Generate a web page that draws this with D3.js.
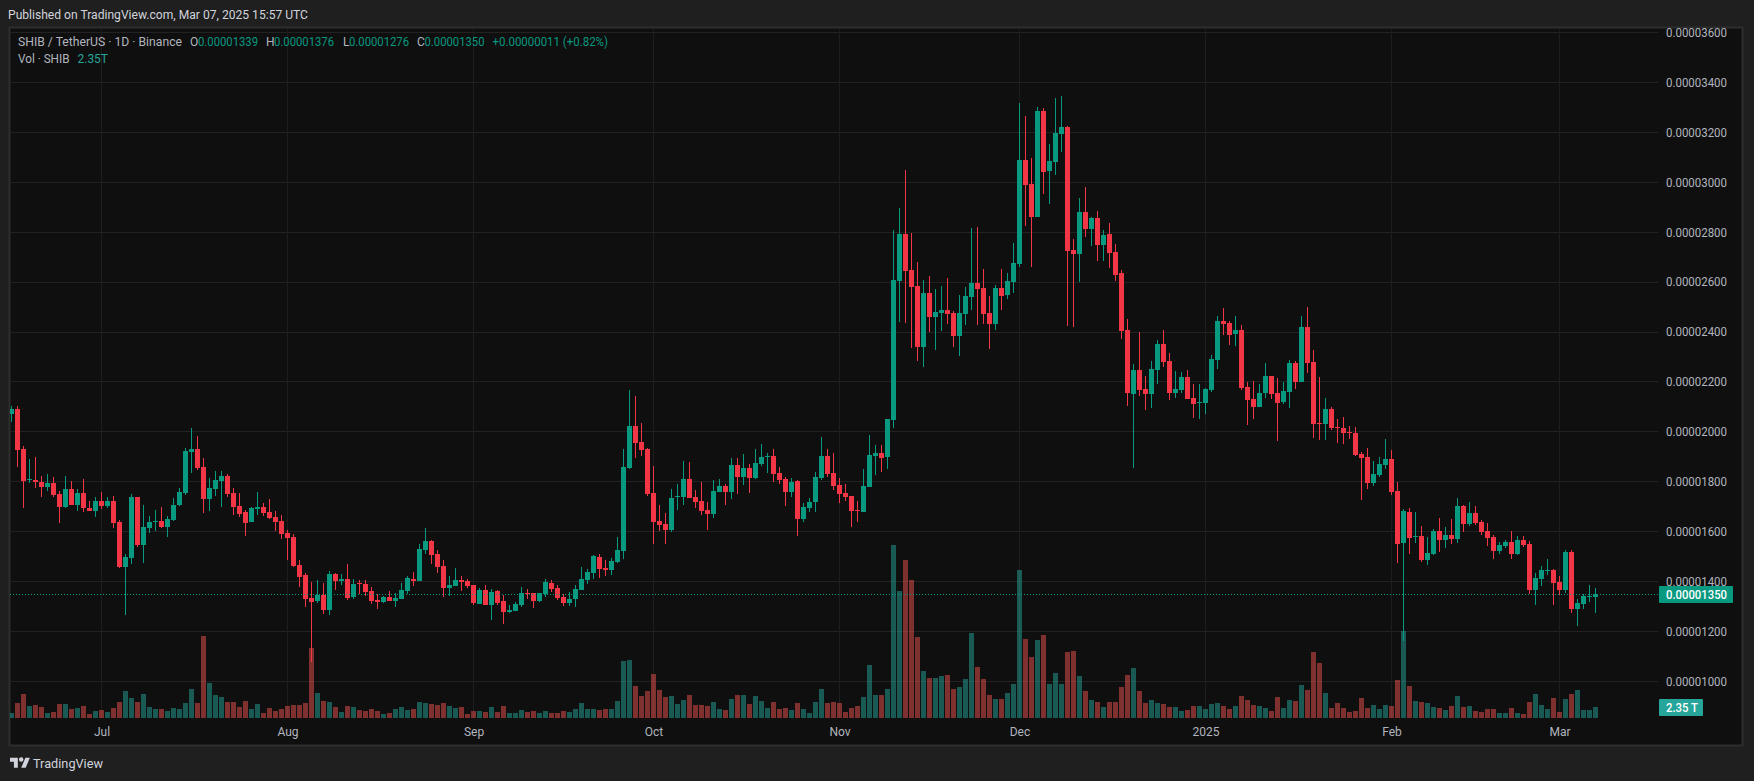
<!DOCTYPE html>
<html>
<head>
 <meta charset="utf-8"/>
 <script src="https://d3js.org/d3.v7.min.js"></script>
 <style>
  html, body { margin: 0; padding: 0; background: #1f1f1f; overflow: hidden; }
  text { font-family: Roboto, sans-serif; }
 </style>
</head>
<body>
 <div id="graph"></div>
 <script type="text/javascript">
   var opens = [
     2073,2093,1933,1809,1809,1801,1781,1797,1753,1701,
     1773,1709,1757,1697,1685,1725,1705,1725,1637,1457,
     1493,1741,1545,1613,1637,1641,1617,1645,1709,1757,
     1921,1933,1861,1733,1773,1805,1825,1757,1705,1681,
     1637,1693,1701,1681,1661,1641,1593,1577,1465,1425,
     1333,1321,1345,1285,1429,1401,1409,1337,1393,1389,
     1361,1325,1317,1337,1321,1329,1361,1409,1401,1525,
     1561,1509,1461,1373,1381,1405,1401,1385,1309,1365,
     1305,1361,1321,1277,1281,1305,1353,1353,1321,1349,
     1393,1373,1337,1313,1329,1365,1405,1433,1497,1453,
     1445,1477,1521,1857,2025,1961,1933,1757,1641,1629,
     1605,1741,1741,1813,1741,1725,1689,1673,1761,1785,
     1761,1869,1821,1857,1817,1873,1901,1905,1837,1813,
     1761,1805,1653,1697,1721,1817,1905,1837,1789,1757,
     1745,1689,1681,1781,1905,1917,1901,2049,2605,2793,
     2649,2585,2341,2557,2461,2477,2489,2477,2385,2473,
     2541,2597,2577,2477,2433,2577,2549,2601,2673,3089,
     2993,2861,3285,3045,3081,3193,3221,2729,2713,2881,
     2813,2857,2749,2793,2721,2637,2409,2153,2249,2173,
     2153,2249,2353,2285,2157,2169,2221,2137,2117,2117,
     2169,2289,2445,2437,2393,2409,2181,2133,2101,2157,
     2225,2157,2121,2161,2277,2201,2421,2281,2037,2033,
     2093,2021,2017,2001,1997,1913,1901,1797,1829,1869,
     1893,1765,1553,1681,1577,1581,1485,1509,1601,1565,
     1585,1569,1705,1629,1677,1637,1601,1577,1521,1541,
     1557,1509,1565,1549,1365,1409,1441,1445,1397,1365,
     1517,1289,1309,1337,1339];
   var highs = [
     2105,2105,1945,1893,1901,1825,1833,1821,1765,1825,
     1805,1773,1813,1725,1741,1761,1741,1745,1648,1509,
     1753,1741,1709,1665,1689,1701,1665,1737,1777,1937,
     2017,1985,1897,1817,1845,1845,1833,1777,1757,1689,
     1701,1761,1717,1733,1685,1669,1605,1589,1485,1433,
     1397,1405,1393,1441,1433,1429,1469,1409,1405,1405,
     1377,1349,1341,1361,1353,1393,1421,1437,1549,1613,
     1565,1525,1485,1421,1453,1421,1409,1385,1373,1385,
     1369,1365,1345,1305,1317,1377,1369,1353,1353,1409,
     1405,1385,1349,1357,1385,1457,1449,1505,1509,1485,
     1493,1577,1933,2169,2145,2037,1937,1865,1709,1677,
     1773,1793,1885,1881,1769,1801,1721,1809,1813,1793,
     1897,1897,1913,1873,1933,1953,1917,1933,1861,1821,
     1817,1809,1717,1737,1841,1981,1933,1917,1817,1793,
     1745,1725,1853,1989,1949,1949,2053,2809,2897,3049,
     2797,2681,2609,2625,2573,2585,2617,2485,2549,2581,
     2817,2821,2653,2545,2589,2653,2637,2757,3317,3265,
     3097,3301,3297,3153,3337,3345,3225,2773,2937,2981,
     2861,2885,2809,2837,2753,2649,2453,2273,2401,2225,
     2285,2369,2409,2317,2245,2241,2249,2193,2193,2177,
     2309,2465,2497,2445,2465,2429,2201,2205,2193,2277,
     2225,2217,2201,2289,2285,2465,2501,2329,2221,2137,
     2101,2053,2061,2025,2021,1921,1937,1885,1901,1973,
     1929,1801,1693,1697,1681,1621,1577,1609,1657,1617,
     1653,1737,1709,1721,1705,1645,1633,1585,1557,1565,
     1601,1581,1581,1561,1433,1461,1489,1449,1421,1525,
     1525,1329,1349,1385,1376];
   var lows = [
     2041,1861,1697,1797,1777,1741,1765,1741,1633,1697,
     1709,1685,1681,1685,1661,1693,1697,1613,1453,1265,
     1469,1537,1473,1593,1601,1613,1577,1641,1705,1749,
     1837,1849,1677,1685,1745,1701,1741,1669,1661,1581,
     1637,1669,1665,1649,1601,1569,1485,1457,1377,1297,
     1077,1313,1269,1265,1365,1385,1325,1329,1349,1341,
     1309,1289,1313,1321,1297,1329,1349,1381,1401,1509,
     1469,1433,1337,1341,1381,1361,1373,1305,1309,1305,
     1246,1305,1230,1273,1281,1297,1329,1293,1317,1337,
     1357,1325,1301,1301,1297,1365,1389,1409,1413,1421,
     1425,1473,1489,1853,1897,1905,1745,1549,1601,1549,
     1597,1689,1709,1737,1697,1669,1605,1657,1761,1709,
     1733,1753,1789,1757,1813,1865,1837,1801,1793,1705,
     1741,1581,1637,1681,1681,1809,1821,1769,1717,1725,
     1617,1637,1681,1781,1829,1841,1853,2017,2441,2437,
     2337,2285,2261,2401,2329,2405,2433,2341,2305,2429,
     2489,2429,2433,2333,2409,2489,2533,2557,2661,2825,
     2661,2861,2953,2913,3029,3121,2425,2421,2601,2781,
     2745,2685,2685,2657,2605,2373,2105,1857,2145,2089,
     2097,2193,2261,2129,2137,2157,2133,2057,2053,2073,
     2161,2253,2389,2349,2345,2169,2029,2053,2101,2137,
     2133,1965,2113,2097,2173,2201,2237,1977,1969,1969,
     2009,1957,1953,1973,1905,1729,1773,1785,1821,1853,
     1749,1473,1163,1509,1553,1477,1465,1505,1517,1533,
     1549,1553,1597,1621,1625,1585,1541,1489,1509,1533,
     1489,1505,1537,1349,1305,1381,1425,1305,1345,1353,
     1273,1221,1289,1317,1276];
   var closes = [
     2093,1929,1805,1813,1801,1781,1797,1749,1701,1773,
     1709,1757,1697,1685,1725,1705,1725,1633,1457,1497,
     1741,1545,1617,1637,1641,1617,1649,1709,1761,1925,
     1933,1857,1733,1777,1809,1825,1753,1701,1673,1633,
     1697,1701,1677,1657,1637,1589,1573,1461,1417,1329,
     1317,1345,1285,1429,1401,1409,1333,1389,1389,1357,
     1321,1317,1337,1321,1333,1365,1413,1401,1529,1561,
     1505,1457,1373,1385,1405,1397,1381,1313,1365,1305,
     1357,1313,1277,1285,1309,1353,1349,1321,1353,1397,
     1369,1333,1313,1329,1369,1409,1437,1501,1449,1445,
     1481,1525,1861,2025,1957,1929,1753,1637,1625,1605,
     1737,1745,1813,1737,1721,1685,1673,1765,1785,1761,
     1869,1821,1857,1817,1877,1901,1905,1833,1809,1761,
     1801,1653,1701,1721,1821,1905,1833,1785,1753,1741,
     1685,1685,1785,1909,1917,1897,2053,2609,2793,2645,
     2581,2341,2557,2461,2481,2489,2473,2385,2477,2545,
     2597,2573,2473,2433,2577,2545,2605,2677,3089,2989,
     2861,3285,3041,3085,3197,3221,2725,2713,2881,2813,
     2857,2749,2789,2717,2629,2405,2157,2249,2169,2153,
     2253,2353,2281,2157,2173,2221,2133,2113,2121,2173,
     2293,2445,2433,2389,2409,2177,2129,2101,2157,2225,
     2153,2117,2165,2277,2201,2421,2277,2033,2033,2093,
     2017,2017,1997,1997,1909,1897,1797,1833,1873,1893,
     1761,1549,1685,1573,1581,1485,1513,1601,1565,1585,
     1569,1705,1629,1677,1633,1597,1573,1521,1545,1557,
     1509,1565,1545,1365,1413,1445,1445,1393,1365,1517,
     1289,1313,1341,1341,1350];
   // volume in trillions of SHIB
   var volumes = [
     1.07,3.2,5.13,2.56,2.78,2.35,1.07,1.28,2.99,2.99,
     1.92,2.14,2.56,0.85,1.5,1.71,1.28,2.14,3.42,5.77,
     4.27,3.42,5.13,2.35,1.92,1.92,1.5,2.14,1.92,3.2,
     6.19,3.2,17.52,7.48,4.91,4.49,3.42,3.42,2.35,3.63,
     1.92,2.99,1.07,2.14,1.5,1.92,2.56,2.78,2.78,3.2,
     14.95,5.34,3.63,3.42,2.35,1.28,2.56,2.35,1.71,1.5,
     1.92,1.5,0.85,1.07,1.92,2.35,1.71,1.92,3.42,3.2,
     2.99,2.78,3.2,2.56,2.14,2.35,0.85,1.5,1.5,1.28,
     2.35,1.28,2.56,1.07,1.07,1.71,1.28,1.5,1.07,1.5,
     1.07,1.07,1.5,1.28,1.92,3.2,1.92,1.92,1.71,1.92,
     1.92,3.63,12.18,12.39,6.84,4.7,5.77,9.4,5.98,4.49,
     4.7,2.99,3.84,4.91,2.78,2.78,2.56,3.42,1.92,1.71,
     4.06,4.91,4.91,2.99,4.7,3.63,2.14,3.42,1.92,2.14,
     1.71,3.2,1.92,1.07,3.42,6.19,3.2,3.42,3.2,1.28,
     2.14,2.56,4.49,11.32,4.91,4.91,6.19,36.95,27.13,33.75,
     29.48,17.3,10.04,8.54,8.54,8.97,9.18,6.19,6.62,8.33,
     18.16,10.89,8.33,4.91,4.06,4.06,5.34,7.26,31.61,16.87,
     13.03,16.66,17.73,7.26,9.61,7.26,14.1,14.31,8.97,5.77,
     3.84,3.42,2.35,3.42,3.42,6.62,9.18,10.68,5.77,3.2,
     3.84,3.2,2.99,2.35,2.35,1.5,1.71,2.56,2.56,1.92,
     2.99,3.2,2.56,1.92,2.56,4.7,3.84,2.78,2.56,2.14,
     1.5,4.49,2.14,3.84,3.63,7.05,5.98,14.1,11.75,5.34,
     2.14,3.2,2.14,1.28,1.5,4.27,2.14,2.78,1.92,2.78,
     2.56,8.12,18.58,6.84,3.63,3.42,3.2,2.35,2.14,1.71,
     2.56,4.7,2.35,2.56,1.5,1.28,1.92,1.92,1.07,1.07,
     2.14,1.07,0.85,3.42,5.13,2.78,1.92,4.27,1.28,4.06,
     5.13,5.98,1.71,1.71,2.35];

   var firstDay = "2024-06-16";
   var lastDay = "2025-03-07";
   var priceTicks = [1000,1200,1400,1600,1800,2000,2200,2400,2600,2800,3000,3200,3400,3600];
   var monthDays = ["2024-07-01","2024-08-01","2024-09-01","2024-10-01","2024-11-01","2024-12-01","2025-01-01","2025-02-01","2025-03-01"];
   var monthLabels = ["Jul","Aug","Sep","Oct","Nov","Dec","2025","Feb","Mar"];
   var lastPrice = 1350;

   var upColor = "#089981", downColor = "#f23645";
   var width = 1754, height = 781;

   var svg = d3.select("#graph").append("svg")
     .attr("width", width).attr("height", height)
     .style("display", "block");

   svg.append("rect").attr("width", width).attr("height", height).attr("fill", "#1f1f1f");
   svg.append("rect").attr("x", 9.5).attr("y", 27.5).attr("width", 1733).attr("height", 718)
     .attr("fill", "#0f0f0f").attr("stroke", "#2e2e2e").attr("stroke-width", 2);

   svg.append("defs").append("clipPath").attr("id", "plot")
     .append("rect").attr("x", 10).attr("y", 28).attr("width", 1648).attr("height", 690);

   var parseDay = d3.utcParse("%Y-%m-%d");
   var dayOf = function(i) { return d3.utcDay.offset(parseDay(firstDay), i); };
   var x = d3.scaleUtc().domain([parseDay(firstDay), parseDay(lastDay)]).range([11.5, 1595.5]);
   var y = d3.scaleLinear().domain([1000, 3600]).range([681.5, 32.5]);
   var v = d3.scaleLinear().domain([0, 37]).range([718, 544.8]);

   // grid
   var grid = svg.append("g").attr("shape-rendering", "crispEdges");
   grid.selectAll(".h").data(priceTicks).enter().append("line")
     .attr("x1", 10).attr("x2", 1658)
     .attr("y1", function(d) { return y(d); }).attr("y2", function(d) { return y(d); })
     .attr("stroke", "#222222");
   grid.selectAll(".v").data(monthDays).enter().append("line")
     .attr("y1", 28).attr("y2", 718)
     .attr("x1", function(d) { return x(parseDay(d)); }).attr("x2", function(d) { return x(parseDay(d)); })
     .attr("stroke", "#1e1e1e");

   var plot = svg.append("g").attr("clip-path", "url(#plot)").attr("shape-rendering", "crispEdges");

   // volume under the candles
   plot.append("g").selectAll("rect").data(volumes).enter().append("rect")
     .attr("x", function(d, i) { return x(dayOf(i)) - 2.5; })
     .attr("width", 5)
     .attr("y", function(d) { return v(d); })
     .attr("height", function(d) { return v(0) - v(d); })
     .attr("fill", function(d, i) { return closes[i] >= opens[i] ? "rgba(38,166,154,0.5)" : "rgba(239,83,80,0.5)"; });

   // wicks
   plot.append("g").selectAll("rect").data(opens).enter().append("rect")
     .attr("x", function(d, i) { return x(dayOf(i)) - 0.5; })
     .attr("width", 1)
     .attr("y", function(d, i) { return y(highs[i]); })
     .attr("height", function(d, i) { return y(lows[i]) - y(highs[i]); })
     .attr("fill", function(d, i) { return closes[i] >= d ? upColor : downColor; });

   // bodies
   plot.append("g").selectAll("rect").data(opens).enter().append("rect")
     .attr("x", function(d, i) { return x(dayOf(i)) - 2.5; })
     .attr("width", 5)
     .attr("y", function(d, i) { return y(Math.max(d, closes[i])); })
     .attr("height", function(d, i) { return Math.max(1, Math.abs(y(d) - y(closes[i]))); })
     .attr("fill", function(d, i) { return closes[i] >= d ? upColor : downColor; });

   // last price line
   svg.append("line")
     .attr("x1", 10).attr("x2", 1658)
     .attr("y1", Math.round(y(lastPrice)) + 0.5).attr("y2", Math.round(y(lastPrice)) + 0.5)
     .attr("stroke", upColor).attr("stroke-dasharray", "1 2");

   // axes
   var yAxis = d3.axisRight(y).tickValues(priceTicks).tickSize(0).tickPadding(0)
     .tickFormat(function(d) { return (d / 1e8).toFixed(8); });
   var yg = svg.append("g").attr("transform", "translate(1666,0)").call(yAxis);
   yg.select(".domain").remove();
   yg.selectAll("text").attr("fill", "#b2b5be").attr("textLength", 61).attr("lengthAdjust", "spacingAndGlyphs")
     .style("font-size", "12px").style("font-family", "Roboto, sans-serif");

   var xAxis = d3.axisBottom(x).tickValues(monthDays.map(parseDay)).tickSize(0).tickPadding(0)
     .tickFormat(function(d, i) { return monthLabels[i]; });
   var xg = svg.append("g").attr("transform", "translate(0,727.5)").call(xAxis);
   xg.select(".domain").remove();
   xg.selectAll("text").attr("fill", "#b2b5be").style("font-size", "12px").style("font-family", "Roboto, sans-serif");

   // header, legend, footer
   var label = function(px, py, s, color, size, len) {
     var t = svg.append("text").attr("x", px).attr("y", py).attr("fill", color)
       .style("font-size", (size || 12) + "px").text(s);
     if (len) t.attr("textLength", len).attr("lengthAdjust", "spacingAndGlyphs");
     return t;
   };

   // price and volume tags
   svg.append("rect").attr("x", 1659).attr("y", 586).attr("width", 74).attr("height", 17).attr("rx", 1).attr("fill", upColor);
   label(1666, 598.5, (lastPrice / 1e8).toFixed(8), "#ffffff", 12, 61).style("font-weight", "500");
   svg.append("rect").attr("x", 1659).attr("y", 699).attr("width", 44).attr("height", 17).attr("rx", 1).attr("fill", "#26a69a");
   label(1666, 711.5, "2.35 T", "#ffffff", 12, 32).style("font-weight", "500");

   label(8, 19, "Published on TradingView.com, Mar 07, 2025 15:57 UTC", "#d1d4dc", 12, 300);

   var grey = "#b2b5be", legendUp = "#089981";
   label(18, 46, "SHIB / TetherUS · 1D · Binance", grey, 12, 164);
   label(190, 46, "O", grey);  label(198, 46, "0.00001339", legendUp, 12, 60);
   label(266, 46, "H", grey);  label(274, 46, "0.00001376", legendUp, 12, 60);
   label(343, 46, "L", grey);  label(349, 46, "0.00001276", legendUp, 12, 60);
   label(417, 46, "C", grey);  label(424.5, 46, "0.00001350", legendUp, 12, 60);
   label(492.5, 46, "+0.00000011 (+0.82%)", legendUp, 12, 115.5);
   label(18, 63, "Vol · SHIB", grey, 12, 51.5);
   label(77.5, 63, "2.35T", "#26a69a", 12, 30.5);

   // logo
   var logo = svg.append("g").attr("transform", "translate(10,755.5) scale(0.56)").attr("fill", "#d1d4dc");
   logo.append("path").attr("d", "M14 22H7V11H0V4h14v18ZM28 22h-8l7.5-18h8L28 22Z");
   logo.append("circle").attr("cx", 20).attr("cy", 7).attr("r", 4);
   label(33, 768, "TradingView", "#d1d4dc", 13, 70);
 </script>
</body>
</html>
